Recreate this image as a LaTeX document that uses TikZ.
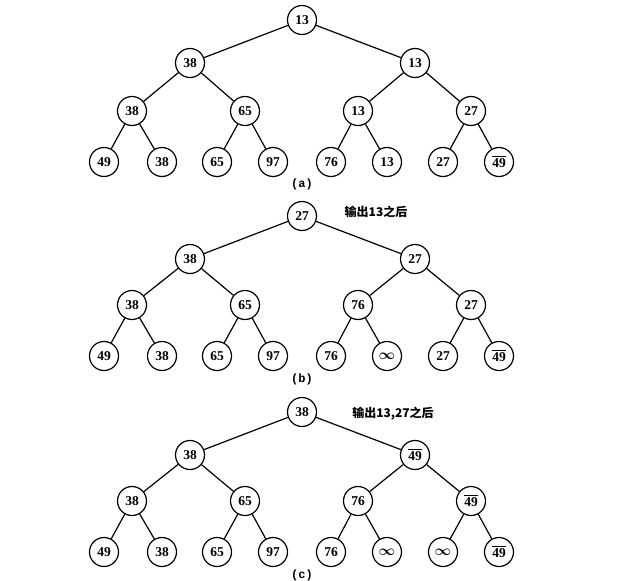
\documentclass[tikz,border=0pt]{standalone}
\usepackage{amsmath}
\usepackage{fontspec}
\setmainfont{Liberation Serif}
\setmonofont{Liberation Mono}
\newfontfamily\cjk{Noto Sans CJK SC}

\tikzset{
  hnode/.style={draw, circle, minimum size=29pt, inner sep=0pt, line width=1.2pt,
    font={\fontsize{13.5}{13.5}\selectfont\bfseries}},
  hedge/.style={line width=1.2pt},
  caption/.style={font={\fontsize{12}{12}\selectfont\ttfamily\bfseries}},
  note/.style={font={\fontsize{12}{12}\selectfont\cjk\bfseries}}
}
\newcommand{\barnum}{\vbox{\hrule height 1pt\kern1.3pt\hbox{49}}}
\newcommand{\infnum}{$\boldsymbol{\infty}$}

\begin{document}
\begin{tikzpicture}[x=1pt,y=-1pt]

\useasboundingbox (0,0) rectangle (627,581);

% (a) tree
\node [hnode] (a1) at (302,20) {13};
\node [hnode] (a2) at (190,63) {38};
\node [hnode] (a3) at (415,63) {13};
\node [hnode] (a4) at (132,111) {38};
\node [hnode] (a5) at (245,111) {65};
\node [hnode] (a6) at (358,111) {13};
\node [hnode] (a7) at (471,111) {27};
\node [hnode] (a8) at (104,162) {49};
\node [hnode] (a9) at (162,162) {38};
\node [hnode] (a10) at (217,162) {65};
\node [hnode] (a11) at (273,162) {97};
\node [hnode] (a12) at (331,162) {76};
\node [hnode] (a13) at (387,162) {13};
\node [hnode] (a14) at (443,162) {27};
\node [hnode] (a15) at (499,162) {\barnum};

\draw [hedge] (a1) -- (a2) (a1) -- (a3)
  (a2) -- (a4) (a2) -- (a5) (a3) -- (a6) (a3) -- (a7)
  (a4) -- (a8) (a4) -- (a9) (a5) -- (a10) (a5) -- (a11)
  (a6) -- (a12) (a6) -- (a13) (a7) -- (a14) (a7) -- (a15);

\node [caption] (acap) at (302,184) {(a)};

% (b) tree
\node [hnode] (b1) at (302,216) {27};
\node [hnode] (b2) at (190,259) {38};
\node [hnode] (b3) at (415,259) {27};
\node [hnode] (b4) at (132,305) {38};
\node [hnode] (b5) at (245,305) {65};
\node [hnode] (b6) at (358,305) {76};
\node [hnode] (b7) at (471,305) {27};
\node [hnode] (b8) at (104,356) {49};
\node [hnode] (b9) at (162,356) {38};
\node [hnode] (b10) at (217,356) {65};
\node [hnode] (b11) at (273,356) {97};
\node [hnode] (b12) at (331,356) {76};
\node [hnode] (b13) at (387,356) {\infnum};
\node [hnode] (b14) at (443,356) {27};
\node [hnode] (b15) at (499,356) {\barnum};

\draw [hedge] (b1) -- (b2) (b1) -- (b3)
  (b2) -- (b4) (b2) -- (b5) (b3) -- (b6) (b3) -- (b7)
  (b4) -- (b8) (b4) -- (b9) (b5) -- (b10) (b5) -- (b11)
  (b6) -- (b12) (b6) -- (b13) (b7) -- (b14) (b7) -- (b15);

\node [caption] (bcap) at (302,379) {(b)};
\node [note] (bnote) at (376,212) {输出13之后};

% (c) tree
\node [hnode] (c1) at (302,412) {38};
\node [hnode] (c2) at (190,455) {38};
\node [hnode] (c3) at (415,455) {\barnum};
\node [hnode] (c4) at (132,501) {38};
\node [hnode] (c5) at (245,501) {65};
\node [hnode] (c6) at (358,501) {76};
\node [hnode] (c7) at (471,501) {\barnum};
\node [hnode] (c8) at (104,552) {49};
\node [hnode] (c9) at (162,552) {38};
\node [hnode] (c10) at (217,552) {65};
\node [hnode] (c11) at (273,552) {97};
\node [hnode] (c12) at (331,552) {76};
\node [hnode] (c13) at (387,552) {\infnum};
\node [hnode] (c14) at (443,552) {\infnum};
\node [hnode] (c15) at (499,552) {\barnum};

\draw [hedge] (c1) -- (c2) (c1) -- (c3)
  (c2) -- (c4) (c2) -- (c5) (c3) -- (c6) (c3) -- (c7)
  (c4) -- (c8) (c4) -- (c9) (c5) -- (c10) (c5) -- (c11)
  (c6) -- (c12) (c6) -- (c13) (c7) -- (c14) (c7) -- (c15);

\node [caption] (ccap) at (302,575) {(c)};
\node [note] (cnote) at (393,414) {输出13,27之后};

\end{tikzpicture}
\end{document}
